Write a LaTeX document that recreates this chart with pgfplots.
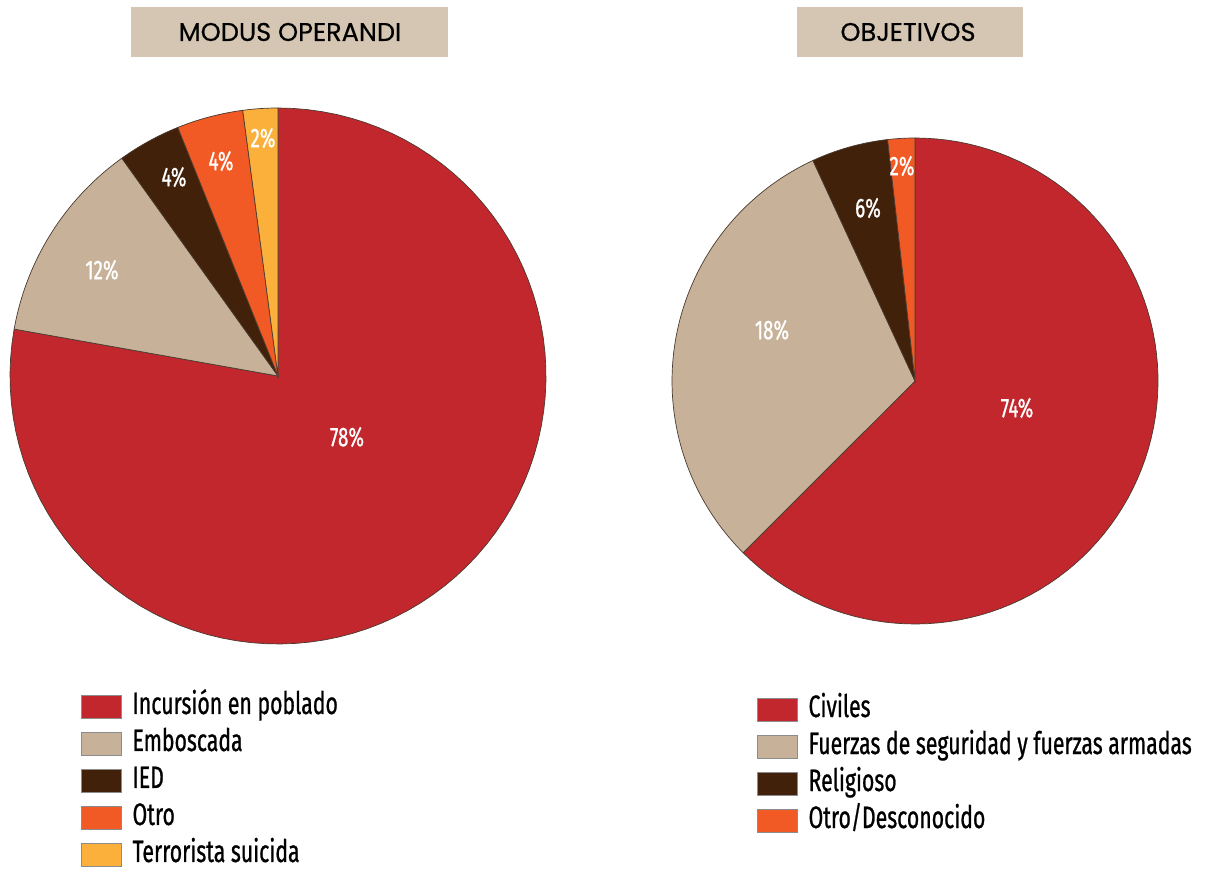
\documentclass[border=0pt]{standalone}
\usepackage{fontspec}
\usepackage{pgfplots}
\pgfplotsset{compat=1.18}
\setmainfont{Fira Sans}
\newfontfamily\cond[FakeStretch=0.685, FakeBold=0.8]{Fira Sans}
\newfontfamily\lab[FakeStretch=0.70, FakeBold=0.8]{Fira Sans}
\newfontfamily\ttl[FakeBold=0.5]{Poppins}
\definecolor{cred}{HTML}{C1272D}
\definecolor{cbeige}{HTML}{C7B299}
\definecolor{cbrown}{HTML}{42210B}
\definecolor{corange}{HTML}{F15A24}
\definecolor{cyellow}{HTML}{FBB03B}
\definecolor{ctitle}{HTML}{D5C6B3}
\definecolor{edgecol}{HTML}{4A3A30}

% pie: #1 cx, #2 cy, #3 r, #4 list value/colour/legend (clockwise from top)
\newcommand{\pieslices}[4]{%
  \gdef\cum{0}%
  \foreach \v/\c/\n in {#4} {%
    \pgfmathsetmacro\sa{90-3.6*\cum}%
    \pgfmathsetmacro\ea{90-3.6*(\cum+\v)}%
    \edef\temp{\noexpand\addplot[fill=\c, draw=edgecol, line width=0.35pt,
      domain=\ea:\sa, samples=90, variable=\noexpand\t]
      ({#1+#3*cos(\noexpand\t)},{#2+#3*sin(\noexpand\t)}) -- (axis cs:#1,#2) -- cycle;
      \noexpand\addlegendentry{\n}}%
    \temp
    \pgfmathsetmacro\nc{\cum+\v}%
    \xdef\cum{\nc}%
  }%
}

\pgfplotsset{
  canvas/.style={
    at={(0,0)}, anchor=south west,
    scale only axis, width=604.5pt, height=434pt,
    xmin=0, xmax=1209, ymin=-868, ymax=0,
    hide axis, clip=false,
    legend cell align=left,
    legend image code/.code={\draw[##1, draw=black!45, line width=0.3pt] (0pt,-5.75pt) rectangle (20pt,5.75pt);},
    legend style={draw=none, fill=none, inner sep=0pt, outer sep=0pt,
      font=\cond\fontsize{15.5}{17}\selectfont,
      nodes={inner sep=0pt, text height=11pt, text depth=3.5pt},
      row sep=4pt, column sep=5.5pt},
  }
}

\begin{document}
\begin{tikzpicture}
% ---------------- MODUS OPERANDI ----------------
\begin{axis}[canvas,
  legend style={at={(81/1209,1-692/868)}, anchor=north west}]
  \fill[ctitle] (axis cs:131,-7) rectangle (axis cs:448,-57);
  \node[font=\ttl\fontsize{12.8}{13}\selectfont] at (axis cs:290,-32) {MODUS OPERANDI};
  \pieslices{278}{-376}{268}{77.8/cred/Incursión en poblado,12.3/cbeige/Emboscada,3.8/cbrown/IED,4.0/corange/Otro,2.1/cyellow/Terrorista suicida}
  \begin{scope}[every node/.style={text=white, font=\lab\fontsize{13.5}{14}\selectfont}]
  \node at (axis cs:347,-437) {78\%};
  \node at (axis cs:102,-270) {12\%};
  \node at (axis cs:174,-177) {4\%};
  \node at (axis cs:221,-161) {4\%};
  \node at (axis cs:263,-138) {2\%};
  \end{scope}
\end{axis}
% ---------------- OBJETIVOS ----------------
\begin{axis}[canvas,
  legend style={at={(757/1209,1-695/868)}, anchor=north west}]
  \fill[ctitle] (axis cs:797,-7) rectangle (axis cs:1023,-57);
  \node[font=\ttl\fontsize{12.8}{13}\selectfont] at (axis cs:908,-32) {OBJETIVOS};
  \pieslices{915}{-381}{243}{62.5/cred/Civiles,30.6/cbeige/Fuerzas de seguridad y fuerzas armadas,5.1/cbrown/Religioso,1.8/corange/{Otro/Desconocido}}
  \begin{scope}[every node/.style={text=white, font=\lab\fontsize{13.5}{14}\selectfont}]
  \node at (axis cs:1017,-408) {74\%};
  \node at (axis cs:772,-330) {18\%};
  \node at (axis cs:868,-208) {6\%};
  \node at (axis cs:902,-166) {2\%};
  \end{scope}
\end{axis}
\pgfresetboundingbox
\useasboundingbox (0,0) rectangle (604.5pt,434pt);
\end{tikzpicture}
\end{document}
